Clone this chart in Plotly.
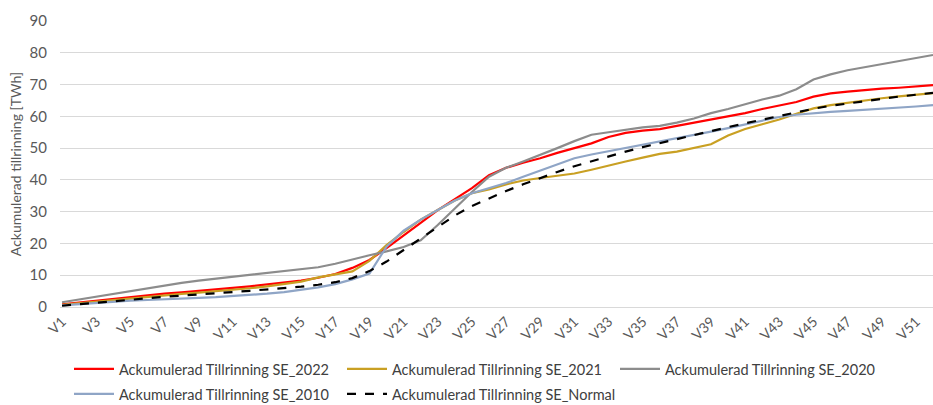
import plotly.graph_objects as go

# Weeks V1..V52
weeks = [f"V{i}" for i in range(1, 53)]
tick_labels = [f"V{i}" for i in range(1, 53, 2)]

# Accumulated inflow, TWh
se_2022 = [0.8, 1.4, 2.0, 2.6, 3.2, 3.7, 4.2, 4.6, 5.0, 5.4,
           6.0, 6.5, 7.1, 7.7, 8.3, 9.2, 10.4, 12.3, 14.8, 18.5,
           22.6, 26.5, 30.5, 34.0, 37.4, 41.5, 43.8, 45.4, 46.8, 48.5,
           50.0, 51.5, 53.5, 54.8, 55.5, 56.0, 57.0, 58.0, 59.0, 60.0,
           61.0, 62.3, 63.3, 64.5, 66.2, 67.2, 67.8, 68.3, 68.7, 69.0,
           69.3, 69.8]
se_2021 = [0.7, 1.2, 1.8, 2.3, 2.8, 3.3, 3.7, 4.1, 4.5, 4.9,
           5.4, 5.9, 6.5, 7.2, 8.0, 9.3, 10.3, 11.2, 14.5, 19.5,
           23.6, 27.5, 30.5, 33.5, 35.8, 37.0, 38.6, 39.8, 40.6, 41.3,
           42.0, 43.2, 44.6, 45.8, 47.0, 48.2, 48.9, 50.0, 51.2, 54.0,
           56.0, 57.5, 59.0, 60.8, 62.5, 63.5, 64.3, 65.0, 65.7, 66.3,
           66.8, 67.3]
se_2020 = [1.5, 2.4, 3.3, 4.2, 5.1, 6.0, 6.9, 7.6, 8.3, 8.9,
           9.5, 10.0, 10.6, 11.2, 11.8, 12.5, 13.6, 15.0, 16.3, 17.5,
           18.9, 21.0, 25.8, 31.0, 36.2, 41.0, 43.8, 45.8, 47.8, 50.0,
           52.2, 54.2, 55.0, 55.8, 56.5, 57.0, 58.0, 59.3, 61.0, 62.3,
           63.8, 65.3, 66.5, 68.5, 71.6, 73.2, 74.5, 75.5, 76.4, 77.3,
           78.3, 79.3]
se_2010 = [0.5, 0.9, 1.3, 1.6, 2.0, 2.2, 2.5, 2.7, 2.9, 3.1,
           3.4, 3.8, 4.2, 4.7, 5.4, 6.2, 7.2, 8.7, 10.5, 19.0,
           24.0, 27.5, 30.5, 33.5, 35.8, 37.5, 39.0, 41.0, 43.0, 45.0,
           46.8, 48.0, 49.0, 50.0, 51.0, 52.0, 53.0, 54.2, 55.2, 56.3,
           57.5, 58.8, 59.8, 60.5, 61.0, 61.4, 61.7, 62.0, 62.4, 62.8,
           63.1, 63.5]
se_normal = [0.4, 0.9, 1.4, 1.9, 2.4, 2.8, 3.2, 3.6, 3.9, 4.3,
             4.7, 5.1, 5.5, 5.9, 6.4, 7.0, 7.8, 9.1, 11.3, 14.3,
             17.9, 21.5, 25.3, 28.8, 31.8, 34.2, 36.5, 38.6, 40.6, 42.5,
             44.3, 45.9, 47.4, 48.9, 50.3, 51.6, 52.9, 54.2, 55.4, 56.6,
             57.8, 59.0, 60.2, 61.3, 62.4, 63.3, 64.1, 64.8, 65.5, 66.2,
             66.8, 67.4]

FONT = "Lato, sans-serif"

series = [
    ("Ackumulerad Tillrinning SE_2022", se_2022, "#ff0000", "solid", "legend"),
    ("Ackumulerad Tillrinning SE_2021", se_2021, "#c9a023", "solid", "legend"),
    ("Ackumulerad Tillrinning SE_2020", se_2020, "#8c8c8c", "solid", "legend"),
    ("Ackumulerad Tillrinning SE_2010", se_2010, "#8fa5c6", "solid", "legend2"),
    ("Ackumulerad Tillrinning SE_Normal", se_normal, "#000000", "dash", "legend2"),
]

fig = go.Figure()
for name, vals, color, dash, leg in series:
    fig.add_trace(go.Scatter(
        x=weeks, y=vals, name=name, mode="lines",
        line=dict(color=color, width=2.2, dash=dash),
        legend=leg,
    ))

legend_style = dict(
    orientation="h", xref="container", yref="container",
    xanchor="left", yanchor="middle",
    font=dict(family=FONT, size=14.5, color="#404040"),
    bgcolor="rgba(0,0,0,0)", itemwidth=40, tracegroupgap=0,
    entrywidth=218, entrywidthmode="pixels",
)

fig.update_layout(
    width=933, height=405,
    margin=dict(l=60, r=0, t=21, b=98),
    paper_bgcolor="white", plot_bgcolor="white",
    font=dict(family=FONT, color="#595959"),
    xaxis=dict(
        type="category", tickmode="array", tickvals=tick_labels,
        ticktext=tick_labels, tickangle=-45,
        range=[-0.12, 51], showgrid=False, showline=True,
        linecolor="#d9d9d9", linewidth=1, ticks="",
        tickfont=dict(family=FONT, size=14, color="#595959"),
    ),
    yaxis=dict(
        range=[0, 90], dtick=10, showgrid=True, gridcolor="#d9d9d9",
        gridwidth=1, zeroline=False, ticks="", ticklabelstandoff=12,
        tickfont=dict(family=FONT, size=15, color="#595959"),
        title=dict(text="Ackumulerad tillrinning [TWh]",
                   font=dict(family=FONT, size=14, color="#595959"),
                   standoff=4),
    ),
    legend=dict(x=69 / 933, y=36 / 405, **legend_style),
    legend2=dict(x=69 / 933, y=11 / 405, **legend_style),
    showlegend=True,
)

fig.write_html("out.html")
